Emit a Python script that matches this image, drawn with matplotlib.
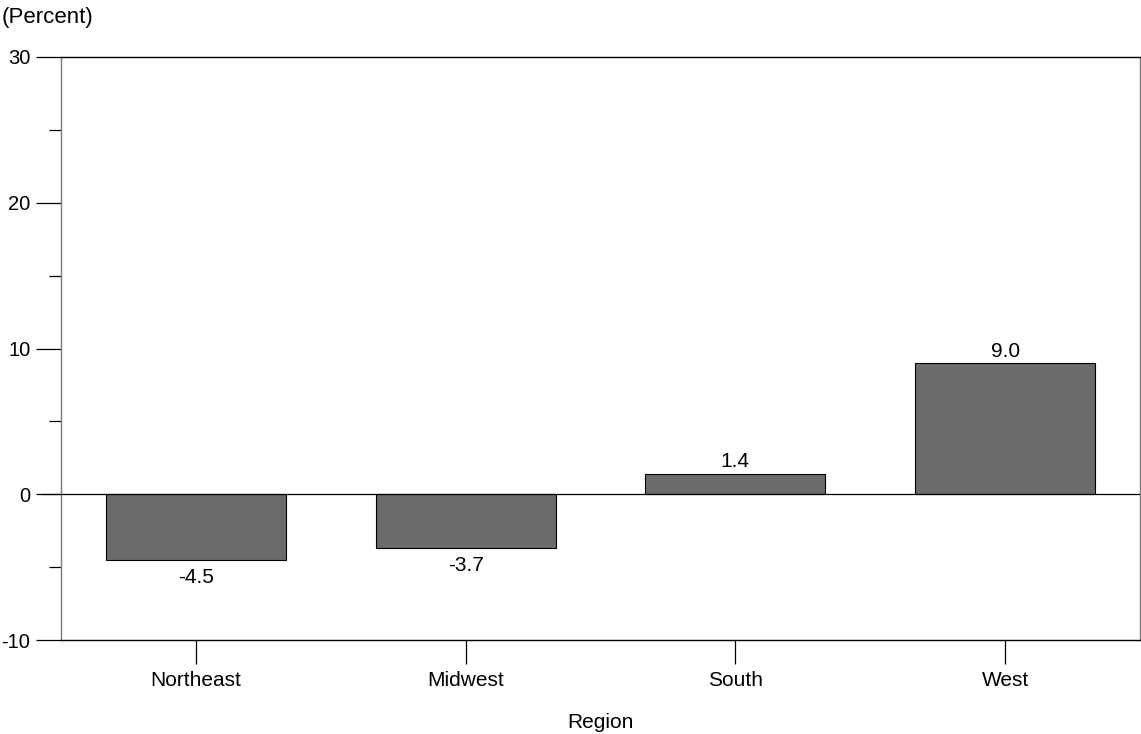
import matplotlib
matplotlib.use("Agg")
import matplotlib.pyplot as plt
import numpy as np

plt.rcParams['font.family'] = ['Liberation Sans', 'DejaVu Sans']

regions = ['Northeast', 'Midwest', 'South', 'West']
values = [-4.5, -3.7, 1.4, 9.0]
labels = ['-4.5', '-3.7', '1.4', '9.0']

W, H = 1141, 734
fig = plt.figure(figsize=(W / 100, H / 100), dpi=100)
ax = fig.add_axes([61 / W, (H - 640) / H, (1140 - 61) / W, (640 - 57) / H])

x = np.arange(len(regions))
bars = ax.bar(x, values, width=0.667, color='#6b6b6b', edgecolor='black', linewidth=0.8, zorder=2)

ax.axhline(0, color='black', linewidth=0.9, zorder=3)
# zero line reaching out past the spine like a tick
ax.plot([-0.5 - 18 / 270, -0.5], [0, 0], color='black', linewidth=0.9, clip_on=False)

for xi, v, lab in zip(x, values, labels):
    if v >= 0:
        ax.text(xi, v + 0.45, lab, ha='center', va='baseline', fontsize=15)
    else:
        ax.text(xi, v - 0.55, lab, ha='center', va='top', fontsize=15)

ax.set_xlim(-0.5, 3.5)
ax.set_ylim(-10, 30)
ax.set_xticks(x)
ax.set_xticklabels(regions, fontsize=15)
ax.set_yticks([-10, 0, 10, 20, 30])
ax.set_yticklabels(['-10', '0', '10', '20', '30'], fontsize=14.5)
ax.set_yticks([-5, 5, 15, 25], minor=True)
ax.tick_params(axis='y', which='major', length=18, width=0.9, direction='out', pad=4)
ax.tick_params(axis='y', which='minor', length=9, width=0.9, direction='out')
ax.tick_params(axis='x', which='major', length=17, width=0.9, direction='out', pad=5)

for side in ['top', 'bottom']:
    ax.spines[side].set_color('black')
    ax.spines[side].set_linewidth(1.0)
for side in ['left', 'right']:
    ax.spines[side].set_color('#7a7a7a')
    ax.spines[side].set_linewidth(1.0)

ax.set_xlabel('Region', fontsize=15, labelpad=17)
fig.text(2 / W, 1 - 23 / H, '(Percent)', ha='left', va='baseline', fontsize=16)

fig.savefig('out.png', dpi=100)
